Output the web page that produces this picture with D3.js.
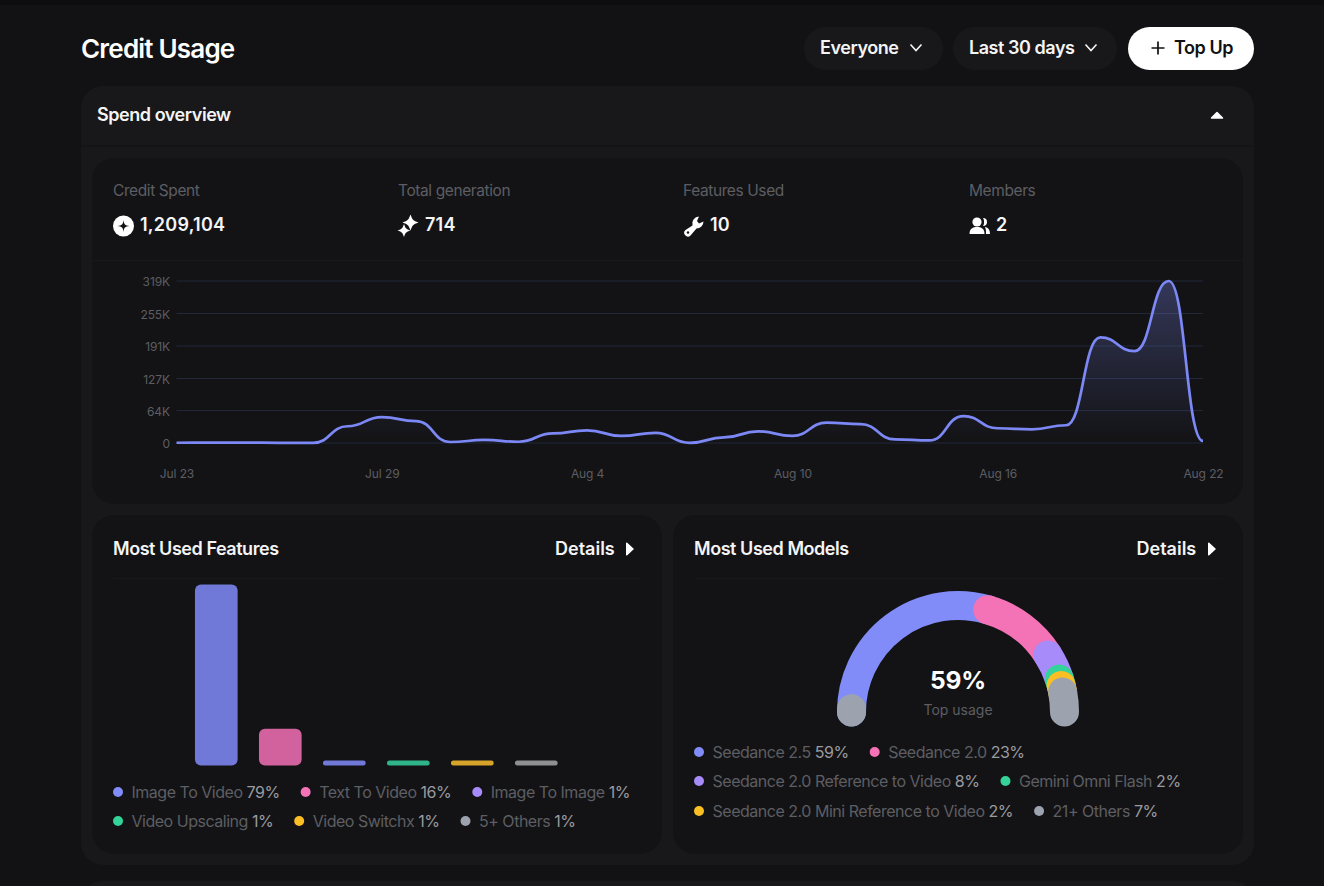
<!DOCTYPE html>
<html><head><meta charset="utf-8">
<script src="https://cdn.jsdelivr.net/npm/d3@7"></script>
<style>
html,body{margin:0;padding:0;background:#121214;overflow:hidden}
svg{display:block;font-family:Inter,"Noto Sans",sans-serif}
</style></head><body><svg id="c" width="1324" height="886"></svg>
<script>
// ---- data ----
const days = ["Jul 23","Jul 24","Jul 25","Jul 26","Jul 27","Jul 28","Jul 29","Jul 30","Jul 31","Aug 1","Aug 2","Aug 3","Aug 4","Aug 5","Aug 6","Aug 7","Aug 8","Aug 9","Aug 10","Aug 11","Aug 12","Aug 13","Aug 14","Aug 15","Aug 16","Aug 17","Aug 18","Aug 19","Aug 20","Aug 21","Aug 22"];
const credits = [500,600,700,400,300,33000,51000,43000,2000,6000,2500,19000,25000,14000,20000,300,11000,23000,14000,40000,37000,7000,5000,53000,29000,27000,35000,208000,181000,319000,4000];
const yTicks = [0,64000,127000,191000,255000,319000];
const yTickLabels = ["0","64K","127K","191K","255K","319K"];
const xTicks = ["Jul 23","Jul 29","Aug 4","Aug 10","Aug 16","Aug 22"];
const statLabels = ["Credit Spent","Total generation","Features Used","Members"];
const statValues = ["1,209,104","714","10","2"];
const featureNames = ["Image To Video","Text To Video","Image To Image","Video Upscaling","Video Switchx","5+ Others"];
const featureShares = [79,16,1,1,1,1];
const featureDotColors = ["#818cf8","#f472b6","#a78bfa","#34d399","#fbbf24","#9ca3af"];
const featureBarColors = ["#7078d8","#d1629d","#7078d8","#2fb388","#d7a42a","#8f9092"];
const modelNames = ["Seedance 2.5","Seedance 2.0","Seedance 2.0 Reference to Video","Gemini Omni Flash","Seedance 2.0 Mini Reference to Video","21+ Others"];
const modelShares = [59,23,8,2,2,7];
const modelColors = ["#818cf8","#f472b6","#a78bfa","#34d399","#fbbf24","#9ca3af"];

// ---- helpers ----
const svg = d3.select("#c");
const FG="#f4f4f5", MUTED="#5d5e63", VAL="#9a9ba0";
const rect=(x,y,w,h,r,f)=>svg.append("rect").attr("x",x).attr("y",y).attr("width",w).attr("height",h).attr("rx",r).attr("fill",f);
const text=(s,x,y,size,weight,fill,anchor,ls)=>svg.append("text").text(s).attr("x",x).attr("y",y).attr("font-size",size).attr("font-weight",weight).attr("fill",fill).attr("text-anchor",anchor||"start").attr("letter-spacing",ls||0);
const hline=(x1,x2,y,c)=>svg.append("line").attr("x1",x1).attr("x2",x2).attr("y1",y).attr("y2",y).attr("stroke",c).attr("stroke-width",1);
const chevron=(x,y)=>svg.append("path").attr("d",`M${x-5.5} ${y-3}L${x} ${y+3}L${x+5.5} ${y-3}`).attr("fill","none").attr("stroke",FG).attr("stroke-width",1.6);
const tri=(d)=>svg.append("path").attr("d",d).attr("fill","#fff").attr("stroke","#fff").attr("stroke-width",1.5).attr("stroke-linejoin","round");

// ---- chrome ----
rect(0,0,1324,886,0,"#121214");
rect(0,0,1324,5,0,"#0d0d0f");
rect(81,881,1173,40,22,"#18181a");
rect(81,86,1173,779,22,"#18181a");
svg.append("line").attr("x1",81).attr("x2",1254).attr("y1",146).attr("y2",146).attr("stroke","#131315").attr("stroke-width",1.5);
rect(92,158,1151,346,22,"#131315");
hline(92,1243,260.5,"#18181b");
rect(92,515,570,339,22,"#131315");
rect(673,515,570,339,22,"#131315");
hline(113,641,578.5,"#18181b");
hline(694,1222,578.5,"#18181b");

text("Credit Usage",81,57.5,26,600,"#fff","start",-0.8);
rect(804,27,139,43,21.5,"#18181a");
rect(953,27,164,43,21.5,"#18181a");
rect(1128,27,126,43,21.5,"#ffffff");
text("Everyone",820,54,18,600,FG,"start",-0.45);
chevron(916,47.5);
text("Last 30 days",969,54,18,600,FG,"start",-0.45);
chevron(1091,47.5);
svg.append("path").attr("d","M1158 41.5V54.5M1151.5 48H1164.5").attr("stroke","#111").attr("stroke-width",1.7);
text("Top Up",1174,54,18,600,"#111","start",-0.45);
text("Spend overview",97,121,18,600,FG,"start",-0.45);
tri("M1211.5 118L1217 112.5L1222.5 118Z");

// ---- stats ----
const statX=[113,398,683,969], statValX=[140,425,710,996];
statLabels.forEach((s,i)=>text(s,statX[i],196,15.5,400,MUTED,"start",-0.4));
statValues.forEach((s,i)=>text(s,statValX[i],231,18,600,FG,"start",0.25));
svg.append("circle").attr("cx",123.5).attr("cy",226).attr("r",10.5).attr("fill","#fff");
svg.append("path").attr("d","M123.5 220C124 224.5 125 225.5 129.5 226C125 226.5 124 227.5 123.5 232C123 227.5 122 226.5 117.5 226C122 225.5 123 224.5 123.5 220Z").attr("fill","#131315");
const star=(x,y,r)=>`M${x} ${y-r}C${x+.25*r} ${y-.3*r} ${x+.3*r} ${y-.25*r} ${x+r} ${y}C${x+.3*r} ${y+.25*r} ${x+.25*r} ${y+.3*r} ${x} ${y+r}C${x-.25*r} ${y+.3*r} ${x-.3*r} ${y+.25*r} ${x-r} ${y}C${x-.3*r} ${y-.25*r} ${x-.25*r} ${y-.3*r} ${x} ${y-r}Z`;
svg.append("path").attr("d",star(410.5,222.5,8)+star(404,230.5,6.5)).attr("fill","#fff");
svg.append("path").attr("d","M699 216.5A7 7 0 0 0 692.5 225.5L685.5 230A3.6 3.6 0 0 0 690.5 235.5L696.5 228.5A7 7 0 0 0 703.5 221.5L699 223.5L697 221Z").attr("fill","#fff");
svg.append("circle").attr("cx",688).attr("cy",232.5).attr("r",1.2).attr("fill","#131315");
svg.append("circle").attr("cx",977).attr("cy",222).attr("r",4.6).attr("fill","#fff");
svg.append("path").attr("d","M969.5 234C969.5 228.5 973 227 977 227C981 227 984.5 228.5 984.5 234Z").attr("fill","#fff");
svg.append("path").attr("d","M983 218A4 4 0 0 1 983 226C984.5 224 984.5 220 983 218ZM985 227C988 227.5 990 229.5 990 234H986C986 231 986 229 985 227Z").attr("fill","#fff");

// ---- line chart ----
const x=d3.scalePoint().domain(days).range([176.5,1203]);
const y=d3.scaleLinear().domain([0,319000]).range([443,281]);
const defs=svg.append("defs");
const grad=defs.append("linearGradient").attr("id","ag").attr("gradientUnits","userSpaceOnUse").attr("x1",0).attr("x2",0).attr("y1",y(319000)).attr("y2",y(0));
grad.append("stop").attr("offset",0).attr("stop-color","#818cf8").attr("stop-opacity",.3);
grad.append("stop").attr("offset",1).attr("stop-color","#818cf8").attr("stop-opacity",0);
svg.append("g").selectAll("line").data(yTicks).join("line")
  .attr("x1",176.5).attr("x2",1203).attr("y1",d=>y(d)).attr("y2",d=>y(d)).attr("stroke","#21283a").attr("stroke-width",1);
const idx=d3.range(days.length);
svg.append("path").datum(idx).attr("fill","url(#ag)")
  .attr("d",d3.area().x(i=>x(days[i])).y0(y(0)).y1(i=>y(credits[i])).curve(d3.curveBumpX));
svg.append("path").datum(idx).attr("fill","none").attr("stroke","#7c88f5").attr("stroke-width",2.7)
  .attr("d",d3.line().x(i=>x(days[i])).y(i=>y(credits[i])).curve(d3.curveBumpX));
const axY=svg.append("g").attr("transform","translate(170,1)")
  .call(d3.axisLeft(y).tickValues(yTicks).tickSize(0).tickPadding(0).tickFormat((d,i)=>yTickLabels[i]));
const axX=svg.append("g").attr("transform","translate(0,443)")
  .call(d3.axisBottom(x).tickValues(xTicks).tickSize(0).tickPadding(26));
[axX,axY].forEach(a=>{a.select(".domain").remove();a.selectAll("text").attr("fill",MUTED).attr("font-size",12).attr("font-family","Inter,sans-serif").attr("letter-spacing",-0.1);});

// ---- cards ----
[[113,"Most Used Features",555,626],[694,"Most Used Models",1136.5,1208]].forEach(([tx,t,dx,ax])=>{
  text(t,tx,555,18,600,FG,"start",-0.45);
  text("Details",dx,555,18,600,FG,"start",0);
  tri(`M${ax+.75} 543.3L${ax+7} 549L${ax+.75} 554.7Z`);
});

// ---- bars ----
const bx=d3.scaleBand().domain(featureNames).range([184.3,568.3]).paddingInner(1/3).paddingOuter(1/6);
const by=d3.scaleLinear().domain([0,79]).range([765.5,584.5]);
const minBar=5;
svg.append("g").selectAll("path").data(featureNames).join("path")
  .attr("fill",(d,i)=>featureBarColors[i])
  .attr("d",(d,i)=>{
    const h=Math.max(by(0)-by(featureShares[i]),minBar), w=bx.bandwidth(), X=bx(d), Y=by(0)-h, r=Math.min(6,h/2);
    return `M${X+r} ${Y}H${X+w-r}A${r} ${r} 0 0 1 ${X+w} ${Y+r}V${Y+h-r}A${r} ${r} 0 0 1 ${X+w-r} ${Y+h}H${X+r}A${r} ${r} 0 0 1 ${X} ${Y+h-r}V${Y+r}A${r} ${r} 0 0 1 ${X+r} ${Y}Z`;
  });

// ---- legends (flow layout) ----
function legend(names,shares,colors,x0,rows){
  let k=0;
  rows.forEach(([count,cy])=>{
    let cx=x0;
    for(let n=0;n<count;n++,k++){
      svg.append("circle").attr("cx",cx+5).attr("cy",cy).attr("r",5).attr("fill",colors[k]);
      const t=svg.append("text").attr("x",cx+18.5).attr("y",cy+5.7).attr("font-size",16).attr("letter-spacing",-0.48);
      t.append("tspan").text(names[k]+" ").attr("fill",MUTED);
      t.append("tspan").text(shares[k]+"%").attr("fill",VAL);
      cx+=18.5+t.node().getComputedTextLength()+21;
    }
  });
}
legend(featureNames,featureShares,featureDotColors,113,[[3,792],[3,821]]);
legend(modelNames,modelShares,modelColors,694,[[2,752],[2,781],[2,811]]);

// ---- gauge ----
const gx=958, gy=712, gr=106.5, gw=29;
const ang=d3.scaleLinear().domain([0,100]).range([-Math.PI,0]);
const g=svg.append("g").attr("transform",`translate(${gx},${gy})`).attr("fill","none").attr("stroke-width",gw).attr("stroke-linecap","round");
const arcPath=(a,b)=>{const p=d3.path();p.arc(0,0,gr,ang(a),ang(b));return p.toString();};
let cum=0;
modelShares.forEach((s,i)=>{
  const a=cum,b=cum+s;cum=b;
  g.append("path").attr("stroke",modelColors[i]).attr("d",arcPath(a,Math.min(b,100)));
  if(b>100) g.append("path").attr("stroke",modelColors[i]).attr("d",arcPath(0,b-100));
});
text(modelShares[0]+"%",gx,689,24.5,700,"#fff","middle",-0.2);
text("Top usage",gx,715,14,400,MUTED,"middle");
</script></body></html>
